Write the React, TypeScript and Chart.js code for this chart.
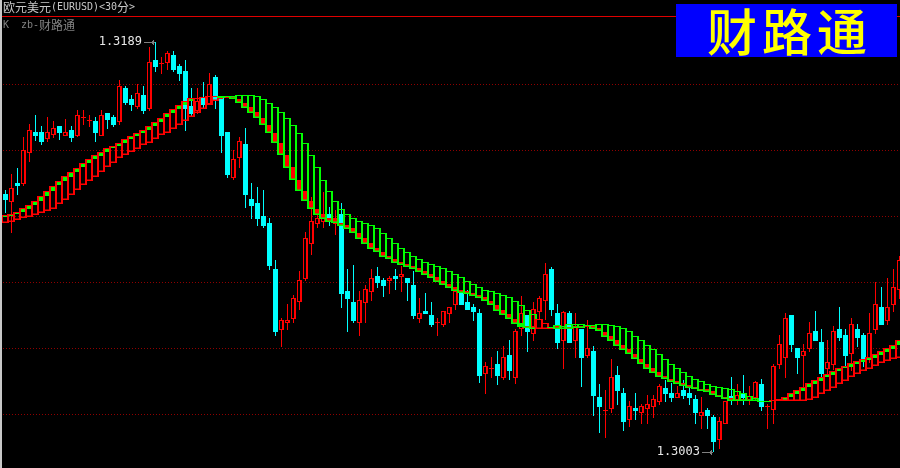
import React, { useEffect, useRef } from "react";
import { Chart, registerables } from "chart.js";

Chart.register(...registerables);

// EUR/USD 30-minute candles, prices in points (1 point = 0.00001)
const open = [
  131200,131165,131250,131244,131388,131482,131482,131449,131467,131509,
  131465,131491,131465,131547,131534,131532,131465,131568,131550,131529,
  131682,131632,131597,131650,131587,131809,131791,131796,131832,131782,
  131759,131600,131577,131641,131609,131732,131643,131482,131273,131364,
  131427,131178,131159,131100,131069,130860,130584,130614,130634,130708,
  130814,130975,131066,131075,131110,131066,131110,130760,130710,130614,
  130705,130755,130828,130810,130805,130828,130823,130819,130787,130632,
  130669,130650,130616,130605,130655,130696,130759,130709,130687,130659,
  130384,130405,130428,130365,130469,130365,130585,130649,130565,130664,
  130714,130859,130659,130532,130659,130532,130587,130464,130487,130278,
  130216,130223,130378,130296,130173,130228,130205,130223,130232,130257,
  130319,130296,130273,130310,130296,130269,130193,130219,130187,130082,
  130157,130282,130260,130291,130260,130272,130337,130232,130217,130423,
  130455,130650,130500,130466,130496,130578,130528,130405,130423,130587,
  130560,130473,130587,130560,130455,130583,130686,130624,130697,130764,
];
const close = [
  131173,131226,131237,131400,131490,131464,131437,131481,131499,131478,
  131482,131455,131558,131550,131537,131478,131558,131537,131514,131690,
  131614,131605,131658,131577,131799,131777,131794,131840,131764,131746,
  131587,131564,131621,131605,131700,131627,131464,131287,131359,131441,
  131196,131146,131087,131055,130873,130573,130626,130626,130726,130808,
  130999,131076,131090,131090,131090,131090,130746,130723,130623,130717,
  130767,130817,130796,130782,130819,130814,130835,130796,130646,130660,
  130655,130605,130619,130669,130687,130759,130696,130673,130664,130373,
  130417,130408,130373,130458,130396,130578,130658,130573,130676,130726,
  130837,130673,130523,130665,130523,130597,130455,130499,130282,130232,
  130219,130367,130305,130164,130237,130214,130237,130246,130269,130328,
  130291,130273,130296,130282,130273,130205,130210,130191,130073,130169,
  130260,130260,130285,130273,130281,130346,130232,130235,130419,130519,
  130637,130514,130455,130487,130569,130532,130382,130437,130578,130546,
  130464,130610,130546,130450,130569,130699,130605,130686,130777,130900,
];
const high = [
  131218,131291,131317,131458,131517,131559,131509,131549,131532,131509,
  131543,131509,131582,131582,131559,131549,131582,131568,131559,131718,
  131691,131650,131700,131691,131868,131891,131824,131850,131850,131791,
  131809,131682,131682,131709,131750,131741,131643,131482,131400,131459,
  131500,131250,131232,131218,131090,130900,130635,130700,130741,130850,
  131028,131188,131113,131210,131141,131128,131158,130860,130878,130760,
  130787,130860,130869,130819,130828,130860,130873,130819,130850,130728,
  130750,130710,130637,130669,130687,130764,130764,130764,130700,130678,
  130437,130459,130487,130509,130537,130587,130737,130650,130709,130737,
  130887,130868,130700,130668,130668,130658,130587,130628,130510,130337,
  130310,130450,130419,130319,130260,130296,130246,130287,130287,130337,
  130355,130340,130328,130355,130332,130287,130278,130228,130196,130187,
  130260,130369,130337,130378,130328,130350,130360,130246,130428,130560,
  130660,130650,130500,130519,130619,130669,130587,130537,130600,130687,
  130587,130637,130610,130569,130660,130800,130777,130818,130859,130918,
];
const low = [
  131112,131025,131196,131237,131346,131440,131423,131437,131456,131446,
  131464,131437,131458,131514,131505,131437,131465,131496,131505,131514,
  131605,131577,131587,131564,131577,131755,131746,131764,131755,131714,
  131487,131549,131564,131587,131605,131587,131387,131273,131264,131318,
  131137,131087,131055,131046,130855,130555,130507,130582,130614,130673,
  130805,130923,131046,131046,131055,131014,130682,130573,130614,130555,
  130614,130714,130773,130732,130746,130764,130755,130714,130632,130614,
  130655,130596,130555,130596,130613,130673,130696,130673,130623,130341,
  130291,130364,130332,130355,130355,130337,130555,130482,130532,130628,
  130628,130646,130496,130405,130523,130455,130323,130455,130191,130114,
  130091,130205,130241,130123,130141,130173,130155,130155,130182,130241,
  130255,130255,130273,130269,130241,130155,130132,130132,130028,130041,
  130157,130241,130241,130241,130241,130260,130214,130132,130155,130405,
  130364,130482,130382,130325,130482,130532,130355,130373,130400,130532,
  130419,130396,130505,130414,130432,130564,130605,130605,130664,130723,
];

// zb-财路通 indicator band
const bandTop = [
  131106,131111,131120,131135,131152,131170,131193,131215,131238,131261,
  131281,131300,131320,131341,131361,131376,131393,131408,131420,131434,
  131452,131465,131479,131493,131511,131529,131547,131570,131588,131606,
  131624,131635,131638,131643,131647,131647,131646,131646,131646,131649,
  131649,131649,131644,131631,131612,131594,131572,131544,131513,131476,
  131431,131376,131322,131263,131213,131167,131131,131108,131090,131076,
  131067,131058,131044,131022,130999,130976,130953,130935,130917,130903,
  130890,130881,130872,130863,130849,130835,130821,130803,130790,130776,
  130762,130758,130749,130740,130731,130712,130694,130672,130653,130631,
  130612,130597,130603,130600,130608,130608,130608,130605,130605,130610,
  130610,130605,130600,130590,130576,130553,130537,130512,130494,130472,
  130449,130426,130408,130390,130372,130358,130349,130338,130329,130325,
  130317,130312,130303,130294,130281,130272,130261,130261,130262,130269,
  130276,130294,130308,130322,130340,130355,130370,130382,130394,130408,
  130419,130431,130440,130449,130458,130472,130485,130500,130512,130535,
];
const bandFill = [
  131096,131102,131111,131120,131132,131152,131170,131193,131215,131240,
  131261,131279,131302,131321,131341,131359,131374,131391,131408,131420,
  131434,131450,131465,131479,131493,131511,131529,131549,131570,131588,
  131606,131623,131634,131635,131641,131644,131638,131643,131641,131632,
  131614,131596,131575,131546,131514,131478,131432,131378,131322,131263,
  131213,131169,131132,131108,131091,131090,131069,131060,131046,131023,
  131000,130978,130956,130938,130919,130905,130893,130882,130872,130863,
  130850,130837,130822,130805,130790,130776,130762,130758,130749,130740,
  130731,130714,130694,130673,130653,130631,130612,130600,130600,130631,
  130612,130590,130599,130591,130597,130600,130600,130602,130600,130593,
  130575,130555,130537,130514,130496,130473,130450,130428,130410,130391,
  130373,130358,130349,130340,130331,130325,130316,130312,130303,130288,
  130279,130273,130269,130269,130269,130262,130258,130258,130262,130262,
  130261,130276,130291,130305,130322,130338,130352,130370,130379,130394,
  130408,130414,130429,130435,130447,130456,130470,130484,130496,130512,
];
const bandBottom = [
  131067,131074,131081,131090,131097,131105,131112,131121,131134,131153,
  131171,131194,131217,131240,131261,131279,131302,131321,131343,131362,
  131378,131393,131406,131421,131434,131452,131467,131479,131494,131512,
  131531,131549,131567,131588,131606,131624,131638,131640,131631,131612,
  131593,131570,131544,131512,131476,131431,131376,131320,131263,131213,
  131167,131131,131106,131088,131075,131067,131056,131043,131022,130997,
  130975,130952,130937,130916,130903,130888,130879,130870,130860,130847,
  130834,130820,130802,130788,130775,130761,130752,130747,130737,130729,
  130712,130694,130670,130652,130631,130611,130594,130590,130585,130585,
  130585,130590,130585,130585,130585,130590,130593,130599,130587,130578,
  130552,130532,130510,130491,130472,130449,130426,130406,130388,130370,
  130358,130346,130337,130328,130319,130312,130306,130300,130287,130278,
  130269,130259,130259,130259,130259,130259,130258,130258,130258,130258,
  130258,130258,130259,130259,130266,130275,130293,130306,130320,130338,
  130352,130369,130381,130394,130406,130419,130431,130440,130449,130456,
];
// U rising (red frame, green fill), D falling (green frame, red fill), X crossing (green frame, green fill)
const bandTrend =
  "UUUUUUUUUUUUUUUUUUUUUUUUUUUUUUUUUUUU" +
  "DDDDDDDDDDDDDDDDDDDDDDDDDDDDDDDDDDDDDDDDDDDDDDDDDD" +
  "XDDUU" +
  "DDDDDDDDDDDDDDDDDDDDDDDDDDDDDDDDDDDDD" +
  "UUUUUUUUUUUUUUUUUUUUUU";

const gridPrices = [131700, 131400, 131100, 130800, 130500, 130200];
const extremes = [
  { index: 25, price: 131891, label: "1.3189" },
  { index: 118, price: 130028, label: "1.3003" },
];
const headerTitle = "欧元美元(EURUSD)<30分>";
const headerIndicator = "K  zb-财路通";
const logoText = "财路通";

const RED = "#ff0000";
const CYAN = "#00ffff";
const GREEN = "#00ff00";
const CJK = '"Noto Sans CJK SC"';
const MONO = '"DejaVu Sans Mono"';

function drawMixed(ctx: CanvasRenderingContext2D, text: string, x: number, y: number) {
  let px = x;
  for (const ch of text) {
    const wide = ch.charCodeAt(0) > 255;
    ctx.font = wide ? `12px ${CJK}` : `10px ${MONO}`;
    ctx.fillText(ch, px, y);
    px += wide ? 12 : 6;
  }
}

const crispBars = {
  id: "crispBars",
  afterDatasetsUpdate(chart: any) {
    chart.data.datasets.forEach((_: any, d: number) => {
      chart.getDatasetMeta(d).data.forEach((el: any) => {
        const even = Math.round(el.width) % 2 === 0;
        el.x = even ? Math.floor(el.x) : Math.floor(el.x) + 0.5;
        el.y = Math.round(el.y);
        el.base = Math.round(el.base);
        if (el.base === el.y) el.base = el.y + 1;
        el.height = el.base - el.y;
      });
    });
  },
};

const backdrop = {
  id: "backdrop",
  beforeDraw(chart: any) {
    const { ctx, width, height } = chart;
    ctx.save();
    ctx.fillStyle = "#000000";
    ctx.fillRect(0, 0, width, height);
    ctx.restore();
  },
};

const overlay = {
  id: "overlay",
  afterDraw(chart: any) {
    const { ctx, width, height, scales } = chart;
    ctx.save();
    ctx.fillStyle = "#c8c8c8";
    ctx.fillRect(0, 0, 2, height);
    ctx.fillStyle = "#e00000";
    ctx.fillRect(2, 16, width - 2, 1);

    ctx.textBaseline = "middle";
    ctx.textAlign = "left";
    ctx.fillStyle = "#c8c8c8";
    drawMixed(ctx, headerTitle, 3, 7);
    ctx.fillStyle = "#808080";
    drawMixed(ctx, headerIndicator, 3, 25);

    ctx.fillStyle = "#0000ff";
    ctx.fillRect(676, 4, 221, 53);
    ctx.fillStyle = "#ffff00";
    ctx.font = `500 50px ${CJK}`;
    (ctx as any).letterSpacing = "5px";
    ctx.fillText(logoText, 707, 32);
    (ctx as any).letterSpacing = "0px";

    ctx.font = `12px ${MONO}`;
    for (const e of extremes) {
      const x = Math.floor(scales.x.getPixelForValue(e.index));
      const y = Math.round(scales.y.getPixelForValue(e.price));
      ctx.fillStyle = "#e8e8e8";
      ctx.textAlign = "right";
      ctx.fillText(e.label, x - 13, y);
      ctx.fillStyle = "#808080";
      ctx.fillRect(x - 11, y, 11, 1);
      ctx.fillRect(x - 3, y - 1, 1, 3);
      ctx.fillRect(x - 2, y - 2, 1, 5);
    }
    ctx.restore();
  },
};

export default function App() {
  const ref = useRef<HTMLCanvasElement>(null);
  useEffect(() => {
    document.body.style.margin = "0";
    document.body.style.background = "#000";
    const idx = open.map((_, i) => i);
    const isUp = idx.map((i) => close[i] >= open[i]);
    const common = { grouped: false, inflateAmount: 0, borderSkipped: false };
    const chart = new Chart(ref.current as HTMLCanvasElement, {
      type: "bar",
      data: {
        datasets: [
          {
            ...common,
            order: 4,
            barThickness: 1,
            data: idx.map((i) => ({ x: i, y: [low[i], high[i]] })),
            backgroundColor: idx.map((i) => (isUp[i] ? RED : CYAN)),
            borderWidth: 0,
          },
          {
            ...common,
            order: 3,
            barThickness: 5,
            data: idx.map((i) => ({ x: i, y: [Math.min(open[i], close[i]), Math.max(open[i], close[i])] })),
            backgroundColor: idx.map((i) => (isUp[i] ? "#000000" : CYAN)),
            borderColor: idx.map((i) => (isUp[i] ? RED : CYAN)),
            borderWidth: (c: any) => (isUp[c.dataIndex] ? { left: 1, right: 2, top: 1, bottom: 1 } : 0),
          },
          {
            ...common,
            order: 2,
            barThickness: 4,
            data: idx.map((i) => ({
              x: i,
              y: bandTrend[i] === "U" ? [bandFill[i], bandTop[i]] : [bandBottom[i], bandFill[i]],
            })),
            backgroundColor: idx.map((i) => (bandTrend[i] === "D" ? RED : GREEN)),
            borderWidth: 0,
          },
          {
            ...common,
            order: 1,
            barThickness: 8,
            data: idx.map((i) => ({ x: i, y: [bandBottom[i], bandTop[i]] })),
            backgroundColor: "rgba(0,0,0,0)",
            borderColor: idx.map((i) => (bandTrend[i] === "U" ? RED : GREEN)),
            borderWidth: { left: 2, right: 2, top: 1, bottom: 1.5 },
          },
        ] as any,
      },
      options: {
        animation: false,
        responsive: false,
        devicePixelRatio: 1,
        layout: { padding: 0 },
        plugins: { legend: { display: false }, tooltip: { enabled: false } },
        scales: {
          x: { type: "linear", display: false, offset: false, min: -0.91667, max: 149.08333 },
          y: {
            type: "linear",
            min: 129955,
            max: 132082,
            ticks: { display: false },
            border: { display: false, dash: [1, 2] },
            grid: { color: "#900000", drawTicks: false, lineWidth: 1 },
            afterBuildTicks: (axis: any) => {
              axis.ticks = gridPrices.map((value) => ({ value }));
            },
          },
        },
      } as any,
      plugins: [backdrop, crispBars, overlay],
    });
    return () => chart.destroy();
  }, []);
  return (
    <div style={{ width: 900, height: 468 }}>
      <canvas ref={ref} width={900} height={468} style={{ display: "block" }} />
    </div>
  );
}
